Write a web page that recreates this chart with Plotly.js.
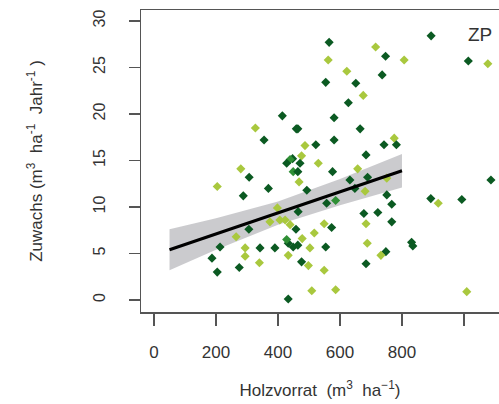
<!DOCTYPE html>
<html>
<head>
<meta charset="utf-8">
<script src="https://cdn.plot.ly/plotly-3.0.1.min.js"></script>
<style>html,body{margin:0;padding:0;background:#fff}#chart{width:499px;height:404px}</style>
</head>
<body>
<div id="chart"></div>
<script>
// Holzvorrat (m3/ha), Zuwachs (m3/ha/Jahr), colour group (0 dark, 1 medium, 2 light)
const holz = [565,715,747,807,562,622,736,554,651,675,627,581,464,665,581,487,522,742,775,782,684,476,894,1014,1077,
  414,327,459,355,447,280,307,204,369,288,439,449,428,471,398,374,406,439,306,458,265,213,294,342,390,433,449,433,187,
  294,340,204,275,433,530,576,657,464,468,493,632,689,751,648,681,751,767,557,586,465,677,722,684,767,549,573,517,478,
  688,554,503,464,831,835,748,732,476,498,684,549,509,586,1087,893,917,993,1009,428,423];
const zuwachs = [27.7,27.2,26.2,25.8,25.8,24.6,24.2,23.4,23.3,22.0,21.2,19.6,18.4,18.4,17.2,16.6,16.7,16.7,17.4,16.7,15.6,15.5,28.4,25.7,25.4,
  19.8,18.5,18.4,17.2,15.2,14.1,13.2,12.2,12.0,11.2,15.1,13.8,14.7,14.7,9.9,8.4,8.6,8.1,7.6,7.6,6.8,5.7,5.6,5.6,5.6,6.1,5.7,4.8,4.5,
  4.7,4.0,3.0,3.5,0.1,14.7,13.8,14.1,13.8,12.7,11.8,12.9,13.2,13.1,12.0,11.7,11.3,10.3,10.4,10.7,9.5,9.3,9.4,8.2,8.4,8.2,7.8,7.2,6.6,
  6.1,5.7,5.6,5.9,6.2,5.8,5.2,4.8,4.1,3.7,3.9,3.2,1.0,1.1,12.9,10.9,10.4,10.8,0.9,6.5,8.6];
const gruppe = [0,2,0,2,2,2,0,0,0,2,0,0,0,0,0,2,0,0,2,0,0,2,0,0,2,
  0,2,0,0,0,2,0,2,0,0,1,1,0,0,2,2,2,2,0,0,2,0,2,0,0,0,0,2,0,
  2,2,0,0,0,2,0,2,0,2,0,0,0,2,0,2,0,0,0,1,0,0,0,2,0,2,0,2,2,
  2,0,2,0,0,0,0,2,0,2,0,2,2,2,0,0,2,0,2,1,2];

// regression line and confidence band
const fitX = [50, 800];
const fitY = [5.4, 13.9];
const bandX  = [50, 200, 400, 600, 800];
const bandLo = [3.2, 5.4, 8.1, 10.2, 12.1];
const bandHi = [7.6, 8.8, 10.6, 13.0, 15.7];

const xTicks = [0, 200, 400, 600, 800, 1000];
const xTickText = ['0', '200', '400', '600', '800', ''];
const yTicks = [0, 5, 10, 15, 20, 25, 30];
const panelLabel = 'ZP';

const palette = ['#0b5a22', '#2f8f35', '#a9c83e'];

const traces = [
  {x: bandX, y: bandLo, mode: 'lines', line: {width: 0, color: 'rgba(0,0,0,0)'}, hoverinfo: 'skip', showlegend: false},
  {x: bandX, y: bandHi, mode: 'lines', fill: 'tonexty', fillcolor: 'rgba(185,185,190,0.75)', line: {width: 0, color: 'rgba(0,0,0,0)'}, hoverinfo: 'skip', showlegend: false},
  {x: holz, y: zuwachs, mode: 'markers', showlegend: false,
   marker: {symbol: 'diamond', size: 7, color: gruppe.map(g => palette[g]), line: {width: 0}}},
  {x: fitX, y: fitY, mode: 'lines', line: {color: '#000', width: 3}, showlegend: false}
];

const fam = 'Liberation Sans, Arial, sans-serif';
const xFont = {family: fam, size: 17, color: '#333'};
const yFont = {family: fam, size: 16, color: '#333'};

const layout = {
  width: 499, height: 404,
  margin: {l: 141, r: 0, t: 10, b: 92},
  paper_bgcolor: '#fff', plot_bgcolor: '#fff',
  font: xFont,
  showlegend: false,
  xaxis: {
    range: [-42, 1113], showgrid: false, zeroline: false,
    showline: true, linecolor: '#555', linewidth: 1.5, mirror: true,
    ticks: 'outside', ticklen: 12, tickwidth: 1.5, tickcolor: '#555',
    tickvals: xTicks, ticktext: xTickText, tickfont: xFont, ticklabelstandoff: 12,
    title: {text: 'Holzvorrat  (m<sup>3</sup>  ha<sup>−1</sup>)', font: xFont, standoff: 23}
  },
  yaxis: {
    range: [-1.29, 31.18], showgrid: false, zeroline: false,
    showline: true, linecolor: '#555', linewidth: 1.5,
    ticks: 'outside', ticklen: 11, tickwidth: 1.5, tickcolor: '#555',
    tickvals: yTicks, tickangle: -90, tickfont: yFont, ticklabelstandoff: 17,
    title: {text: 'Zuwachs (m<sup>3</sup>  ha<sup>-1</sup>  Jahr<sup>-1</sup> )', font: xFont, standoff: 44}
  },
  annotations: [{x: 1052, y: 28.5, xref: 'x', yref: 'y', text: panelLabel, showarrow: false,
    font: {family: fam, size: 19, color: '#333'}}]
};

Plotly.newPlot('chart', traces, layout, {staticPlot: true, displayModeBar: false});
</script>
</body>
</html>
